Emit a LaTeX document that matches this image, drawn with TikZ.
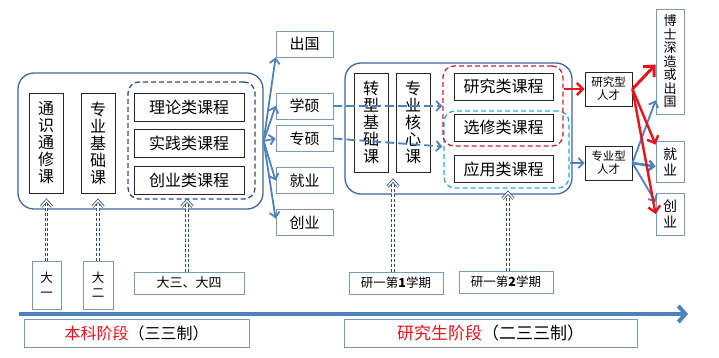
\documentclass[tikz,border=0pt]{standalone}
\usepackage{fontspec}
\setmainfont{Noto Sans CJK SC}
\usetikzlibrary{positioning,arrows.meta}
\definecolor{frameblue}{HTML}{41689A}
\definecolor{arrowblue}{HTML}{4F81BD}
\definecolor{dashnavy}{HTML}{2F4F7F}
\definecolor{lightframe}{HTML}{7D98C0}
\definecolor{hotred}{HTML}{E8131B}
\definecolor{dashred}{HTML}{C0282D}
\definecolor{dashcyan}{HTML}{31A9C8}

\begin{document}
\begin{tikzpicture}[x=1pt, y=-1pt,
    bigbox/.style={draw=frameblue, line width=1.3pt, rounded corners=16pt},
    groupbox/.style={dashed, dash pattern=on 5pt off 3pt, line width=1.3pt, rounded corners=11pt},
    course/.style={draw=black!85, fill=white, line width=0.8pt, inner sep=0pt,
      align=center, font=\fontsize{16}{17}\selectfont},
    vcourse/.style={course, minimum width=34pt, minimum height=100pt},
    hcourse/.style={course, minimum width=110pt, minimum height=28pt},
    dest/.style={draw=lightframe, fill=white, line width=0.8pt, inner sep=0pt,
      align=center, font=\fontsize{15}{16}\selectfont},
    tag/.style={draw=lightframe, fill=white, line width=0.8pt, inner sep=0pt,
      align=center, font=\fontsize{12.5}{15}\selectfont},
    talent/.style={draw=black!85, fill=white, line width=0.9pt, inner sep=0pt,
      align=center, font=\fontsize{11.5}{13}\selectfont, minimum width=47pt, minimum height=34pt},
    fan/.style={draw=arrowblue, line width=1.8pt, -{Straight Barb[length=5pt, width=10pt]}},
    redfan/.style={draw=hotred, line width=2.4pt, -{Straight Barb[length=6pt, width=12pt]}},
    flow/.style={draw=arrowblue, line width=1.8pt, dash pattern=on 9pt off 4pt,
      -{Straight Barb[length=5pt, width=10pt]}},
    hollow/.style={draw=white, line width=1.4pt,
      preaction={draw=dashnavy, line width=3.6pt, dash pattern=on 3pt off 2pt}},
    hollowhead/.style={draw=dashnavy, line width=0.8pt, double=white, double distance=1.4pt,
      line join=miter}
  ]
  \useasboundingbox[fill=white] (0,0) rectangle (719,357);

  \node[bigbox, minimum width=245pt, minimum height=136pt] (under) at (140.5,141) {};
  \node[groupbox, draw=dashnavy, minimum width=127pt, minimum height=117pt] (udash) at (191.5,140.5) {};
  \node[vcourse] (tongshi) at (46,143) {通\\识\\通\\修\\课};
  \node[vcourse] (zhuanji) at (98,143) {专\\业\\基\\础\\课};
  \node[hcourse] (lilun) at (189,107) {理论类课程};
  \node[hcourse] (shijian) at (189,143) {实践类课程};
  \node[hcourse] (cyke) at (189,180) {创业类课程};

  \node[dest, minimum width=57pt, minimum height=26pt] (chuguo) at (304.5,44) {出国};
  \node[dest, minimum width=57pt, minimum height=26pt] (xueshuo) at (304.5,106) {学硕};
  \node[dest, minimum width=57pt, minimum height=26pt] (zhuanshuo) at (304.5,138.5) {专硕};
  \node[dest, minimum width=57pt, minimum height=26pt] (jiuye) at (304.5,180.5) {就业};
  \node[dest, minimum width=57pt, minimum height=26pt] (chuangye) at (304.5,222.5) {创业};

  \node[bigbox, minimum width=227pt, minimum height=131pt] (grad) at (458.5,128.5) {};
  \node[groupbox, draw=dashcyan, minimum width=125pt, minimum height=77pt] (cyanbox) at (506.5,149.5) {};
  \node[groupbox, draw=dashred, minimum width=120pt, minimum height=80pt] (redbox) at (503,106) {};
  \node[vcourse, minimum height=99pt] (zhuanxing) at (371,122.5) {转\\型\\基\\础\\课};
  \node[vcourse, minimum height=99pt] (hexin) at (413,122.5) {专\\业\\核\\心\\课};
  \node[hcourse, minimum width=99pt, minimum height=27pt] (yanjiu) at (503.5,86.5) {研究类课程};
  \node[hcourse, minimum width=99pt, minimum height=27pt] (xuanxiu) at (503.5,127.5) {选修类课程};
  \node[hcourse, minimum width=99pt, minimum height=27pt] (yingyong) at (503.5,169) {应用类课程};

  \node[talent] (yjrc) at (608.5,89) {研究型\\人才};
  \node[talent] (zyrc) at (608.5,163) {专业型\\人才};
  \node[dest, minimum width=28pt, minimum height=105pt, font=\fontsize{13}{13.5}\selectfont] (boshi) at (670,61.5) {博\\士\\深\\造\\或\\出\\国};
  \node[dest, minimum width=28pt, minimum height=41pt, font=\fontsize{14}{16}\selectfont] (jiuye2) at (670,161.5) {就\\业};
  \node[dest, minimum width=28pt, minimum height=42pt, font=\fontsize{14}{16}\selectfont] (chuangye2) at (670,214) {创\\业};

  \node[tag, minimum width=29pt, minimum height=48pt] (dayi) at (46.5,285) {大\\一};
  \node[tag, minimum width=30pt, minimum height=48pt] (daer) at (98,285) {大\\二};
  \node[tag, minimum width=110pt, minimum height=22pt, font=\fontsize{13}{15}\selectfont] (dasan) at (189,283) {大三、大四};
  \node[tag, minimum width=94pt, minimum height=22pt] (yan1) at (396,283) {研一第\textbf{1}学期};
  \node[tag, minimum width=94pt, minimum height=22pt] (yan2) at (506,282) {研一第\textbf{2}学期};

  \coordinate (axstart) at (19,314);
  \coordinate (axend) at (688,314);
  \draw[draw=arrowblue, line width=4pt, -{Straight Barb[length=7pt, width=16pt]}] (axstart) -- (axend);
  \node[tag, minimum width=225pt, minimum height=28pt, font=\fontsize{16}{18}\selectfont] (benke) at (136.5,333)
    {\textcolor{hotred}{本科阶段}（三三制）};
  \node[tag, minimum width=293pt, minimum height=28pt, font=\fontsize{17}{18}\selectfont] (yjs) at (490.5,333)
    {\textcolor{hotred}{研究生阶段}（二三三制）};

  \draw[fan] (under.east) -- (chuguo.south west);
  \draw[fan] (under.east) -- (xueshuo.west);
  \draw[fan] (under.east) -- (zhuanshuo.west);
  \draw[fan] (under.east) -- (jiuye.west);
  \draw[fan] (under.east) -- ([yshift=4pt]chuangye.west);

  \draw[flow] (xueshuo.east) -- (redbox.west |- xueshuo.east);
  \draw[flow] (zhuanshuo.east) -- ([yshift=-8pt]redbox.west |- zhuanshuo.east);

  \draw[redfan] (redbox.east |- yjrc.west) -- (yjrc.west);
  \draw[fan] (cyanbox.east |- zyrc.west) -- (zyrc.west);

  \draw[fan] (zyrc.east) -- ([yshift=14pt]boshi.south west);
  \draw[fan, line width=2.6pt] (zyrc.east) -- ([yshift=-5pt]jiuye2.west);
  \draw[fan] (zyrc.east) -- ([yshift=12pt]chuangye2.west);
  \draw[redfan, line width=3pt, -{Straight Barb[length=8pt, width=15pt]}] (yjrc.east) -- ([yshift=-3pt]boshi.west);
  \draw[redfan] (yjrc.east) -- ([yshift=-4pt]jiuye2.north west);
  \draw[redfan] (yjrc.east) -- (chuangye2.west);

  \foreach \src/\dx/\dy/\dst [count=\i] in {dayi/0/9/under, daer/0/9/under, dasan/-2/9/under,
      yan1/-3/14/grad, yan2/2/2/grad} {
    \coordinate (tip\i) at ([xshift=\dx pt, yshift=\dy pt]\src.north |- \dst.south);
    \draw[hollow] ([xshift=\dx pt]\src.north) -- ([yshift=-1pt]tip\i);
    \draw[hollowhead] ([xshift=-5.5pt, yshift=-6pt]tip\i) -- (tip\i) -- ([xshift=5.5pt, yshift=-6pt]tip\i);
  }
\end{tikzpicture}
\end{document}
